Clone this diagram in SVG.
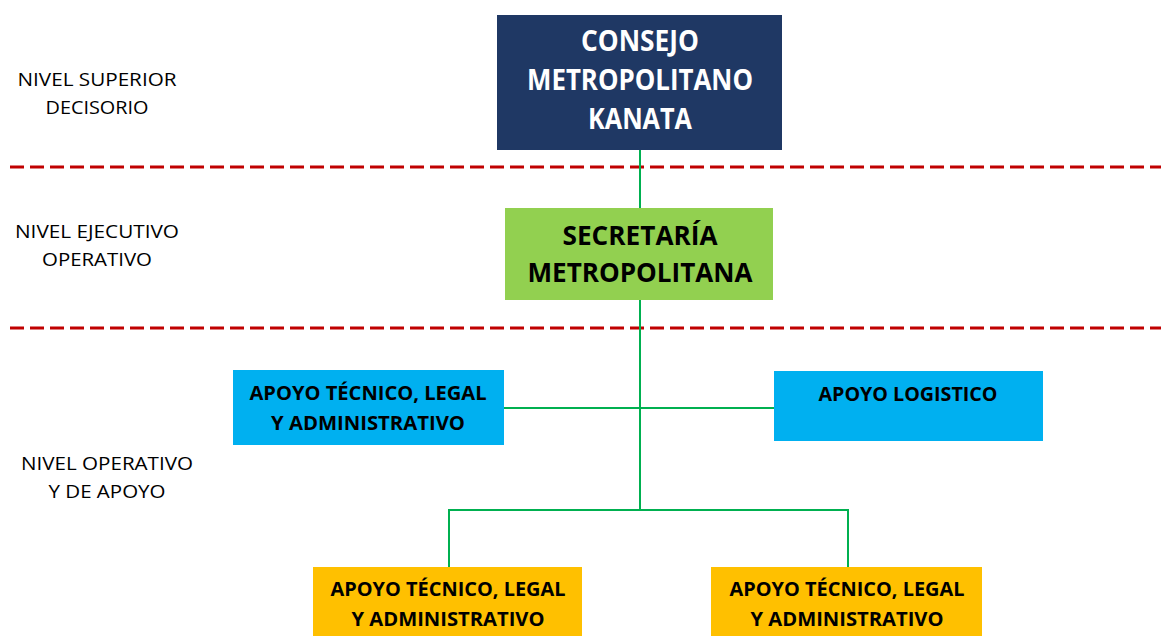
<svg xmlns="http://www.w3.org/2000/svg" width="1161" height="636" viewBox="0 0 1161 636">
<style>
.lvl{font-family:"Open Sans","Liberation Sans",sans-serif;font-size:19px;fill:#000;text-anchor:middle}
.bt{font-family:"Open Sans","Liberation Sans",sans-serif;font-weight:bold;text-anchor:middle}
.w{fill:#fff;font-size:28px}
.k{fill:#000}
.s26{font-size:26px}
.s20{font-size:20px}
.dash{stroke:#C00000;stroke-width:3;stroke-dasharray:14 6;fill:none}
.con{stroke:#00B050;stroke-width:2;fill:none}
</style>
<rect width="1161" height="636" fill="#fff"/>
<g id="levels">
<line class="dash" x1="10" y1="167" x2="1161" y2="167"/>
<line class="dash" x1="10" y1="328" x2="1161" y2="328"/>
<text class="lvl" x="97" y="86" textLength="159" lengthAdjust="spacingAndGlyphs">NIVEL SUPERIOR</text>
<text class="lvl" x="97" y="114" textLength="103" lengthAdjust="spacingAndGlyphs">DECISORIO</text>
<text class="lvl" x="97" y="238" textLength="164" lengthAdjust="spacingAndGlyphs">NIVEL EJECUTIVO</text>
<text class="lvl" x="97" y="266" textLength="110" lengthAdjust="spacingAndGlyphs">OPERATIVO</text>
<text class="lvl" x="107" y="470" textLength="172" lengthAdjust="spacingAndGlyphs">NIVEL OPERATIVO</text>
<text class="lvl" x="107" y="498" textLength="117" lengthAdjust="spacingAndGlyphs">Y DE APOYO</text>
</g>
<g id="connectors">
<line class="con" x1="640" y1="150" x2="640" y2="208"/>
<line class="con" x1="640" y1="300" x2="640" y2="510"/>
<line class="con" x1="504" y1="408" x2="774" y2="408"/>
<polyline class="con" points="449,567 449,510 848,510 848,567"/>
</g>
<g id="consejo">
<rect x="497" y="15" width="285" height="135" fill="#1F3864"/>
<text class="bt w" x="640" y="51" textLength="118" lengthAdjust="spacingAndGlyphs">CONSEJO</text>
<text class="bt w" x="640" y="90" textLength="226" lengthAdjust="spacingAndGlyphs">METROPOLITANO</text>
<text class="bt w" x="640" y="129" textLength="104" lengthAdjust="spacingAndGlyphs">KANATA</text>
</g>
<g id="secretaria">
<rect x="505" y="208" width="268" height="92" fill="#92D050"/>
<text class="bt k s26" x="640" y="245" textLength="155" lengthAdjust="spacingAndGlyphs">SECRETARÍA</text>
<text class="bt k s26" x="640" y="282" textLength="225" lengthAdjust="spacingAndGlyphs">METROPOLITANA</text>
</g>
<g id="apoyo-tecnico">
<rect x="233" y="370" width="271" height="75" fill="#00B0F0"/>
<text class="bt k s20" x="368" y="400" textLength="237" lengthAdjust="spacingAndGlyphs">APOYO TÉCNICO, LEGAL</text>
<text class="bt k s20" x="368" y="430" textLength="194" lengthAdjust="spacingAndGlyphs">Y ADMINISTRATIVO</text>
</g>
<g id="apoyo-logistico">
<rect x="774" y="371" width="269" height="70" fill="#00B0F0"/>
<text class="bt k s20" x="908" y="401" textLength="179" lengthAdjust="spacingAndGlyphs">APOYO LOGISTICO</text>
</g>
<g id="apoyo-bottom-left">
<rect x="313" y="567" width="269" height="72" fill="#FFC000"/>
<text class="bt k s20" x="448" y="596" textLength="235" lengthAdjust="spacingAndGlyphs">APOYO TÉCNICO, LEGAL</text>
<text class="bt k s20" x="448" y="626" textLength="193" lengthAdjust="spacingAndGlyphs">Y ADMINISTRATIVO</text>
</g>
<g id="apoyo-bottom-right">
<rect x="711" y="567" width="271" height="72" fill="#FFC000"/>
<text class="bt k s20" x="847" y="596" textLength="235" lengthAdjust="spacingAndGlyphs">APOYO TÉCNICO, LEGAL</text>
<text class="bt k s20" x="847" y="626" textLength="193" lengthAdjust="spacingAndGlyphs">Y ADMINISTRATIVO</text>
</g>
</svg>
